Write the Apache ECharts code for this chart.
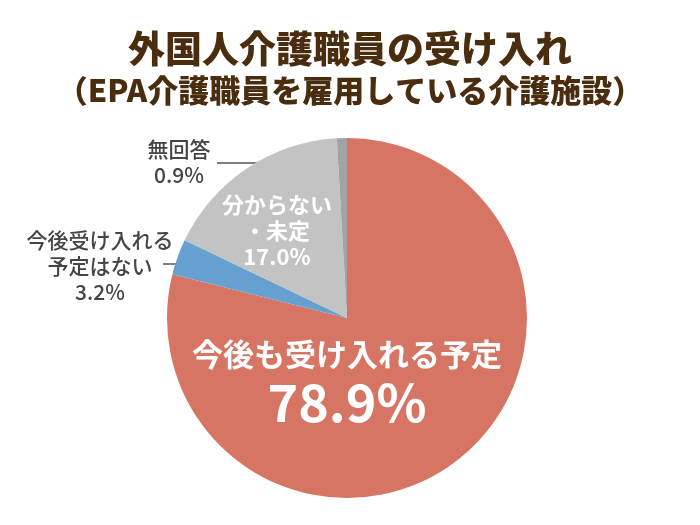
<!DOCTYPE html>
<html>
<head>
<meta charset="utf-8">
<script src="https://cdn.jsdelivr.net/npm/echarts@6/dist/echarts.min.js"></script>
<style>
html,body{margin:0;padding:0;background:#fff;}
#chart{width:700px;height:525px;}
</style>
</head>
<body>
<div id="chart"></div>
<script>
const titleMain = '外国人介護職員の受け入れ';
const titleSub = '（EPA介護職員を雇用している介護施設）';
const categories = ['今後も受け入れる予定', '今後受け入れる\n予定はない', '分からない\n・未定', '無回答'];
const values = [78.9, 3.2, 17.0, 0.9];
const colors = ['#d77565', '#66a0d0', '#c3c3c3', '#a3a3a3'];

const FONT = '"Noto Sans CJK JP", "Noto Sans", sans-serif';

// label placement (layout only)
const labelPos = [
  {x: 347, y: 380, inside: true},
  {x: 100, y: 266, line: [[188, 264], [163, 264], [163, 264]]},
  {x: 277, y: 231, inside: true},
  {x: 179, y: 162, line: [[340, 163], [217, 163], [217, 163]]}
];

const data = categories.map((name, i) => {
  const item = {name: name, value: values[i], itemStyle: {color: colors[i]}};
  if (i === 0) {
    item.label = {
      show: true, position: 'inside',
      formatter: p => '{a|' + p.name + '}\n{b|' + p.value.toFixed(1) + '%}',
      rich: {
        a: {fontFamily: FONT, fontSize: 31, fontWeight: 'bold', color: '#fff', lineHeight: 45, align: 'center'},
        b: {fontFamily: FONT, fontSize: 52, fontWeight: 'bold', color: '#fff', lineHeight: 52, align: 'center'}
      }
    };
    item.labelLine = {show: false};
  } else if (i === 2) {
    item.label = {
      show: true, position: 'inside',
      formatter: p => p.name + '\n' + p.value.toFixed(1) + '%',
      fontFamily: FONT, fontSize: 22, fontWeight: 'bold', color: '#fff', lineHeight: 26, align: 'center'
    };
    item.labelLine = {show: false};
  } else {
    item.label = {
      show: true, position: 'outside',
      formatter: p => p.name + '\n' + p.value.toFixed(1) + '%',
      fontFamily: FONT, fontSize: 21, fontWeight: 500, color: '#444', lineHeight: 26, align: 'center'
    };
    item.labelLine = {show: true, lineStyle: {color: '#555', width: 1.5}};
  }
  return item;
});

const chart = echarts.init(document.getElementById('chart'), null, {renderer: 'canvas'});
chart.setOption({
  backgroundColor: '#fff',
  animation: false,
  title: [
    {text: titleMain, left: 'center', top: 25,
     textStyle: {fontFamily: FONT, fontSize: 37, fontWeight: 900, color: '#4a2c0f', lineHeight: 37}},
    {text: titleSub, left: 'center', top: 69,
     textStyle: {fontFamily: FONT, fontSize: 31, fontWeight: 900, color: '#4a2c0f', lineHeight: 32}}
  ],
  series: [{
    type: 'pie',
    center: [347, 318],
    radius: [0, 180],
    startAngle: 90,
    clockwise: true,
    avoidLabelOverlap: false,
    itemStyle: {borderWidth: 0},
    emphasis: {disabled: true},
    data: data,
    labelLayout: function (params) {
      const p = labelPos[params.dataIndex];
      const r = {x: p.x, y: p.y, align: 'center', verticalAlign: 'middle'};
      if (p.line) r.labelLinePoints = p.line;
      return r;
    }
  }]
});
</script>
</body>
</html>
